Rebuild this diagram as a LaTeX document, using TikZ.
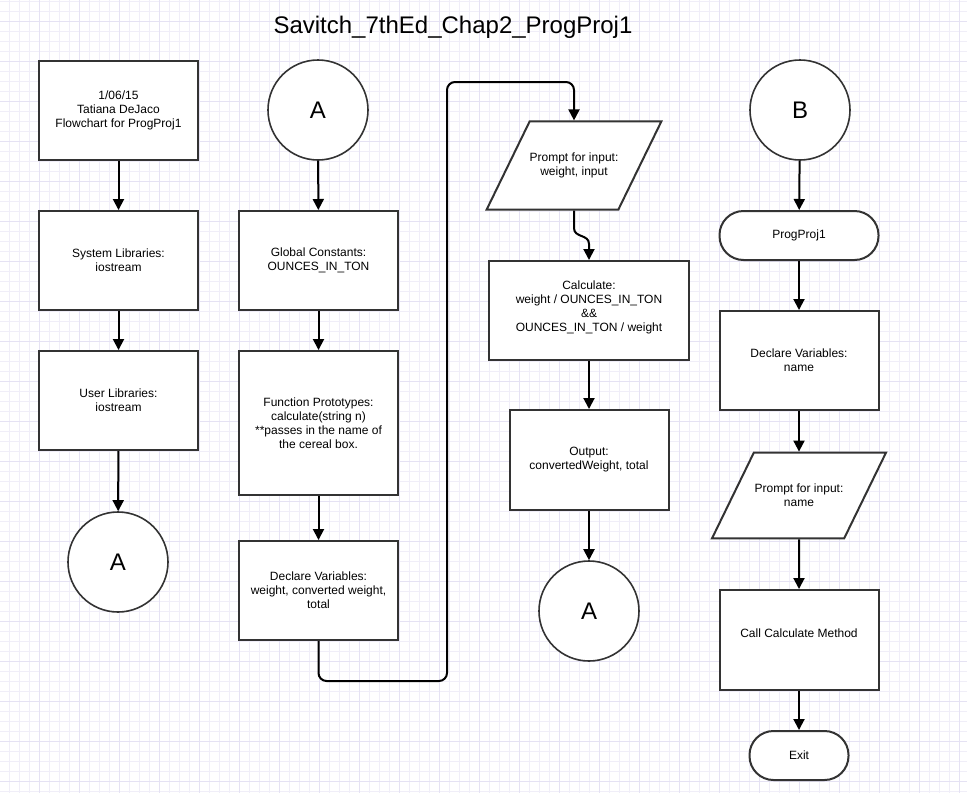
\documentclass[tikz,border=0pt]{standalone}
\usepackage{fontspec}
\setmainfont{Liberation Sans}
\usetikzlibrary{shapes.geometric,arrows.meta,positioning}
\definecolor{gridminor}{HTML}{F0EEF8}
\definecolor{gridmajor}{HTML}{E5E2F3}
\definecolor{boxline}{HTML}{333333}

\begin{document}
\begin{tikzpicture}[
  x=1pt, y=-1pt,
  every node/.style={font=\fontsize{12}{14}\selectfont, align=center},
  box/.style={rectangle, draw=boxline, line width=2pt, fill=white, minimum width=159pt, minimum height=99pt, inner sep=2pt},
  conn/.style={circle, draw=boxline, line width=1.6pt, fill=white, minimum size=100pt, font=\fontsize{24}{28}\selectfont},
  term/.style={rectangle, rounded corners=24pt, draw=boxline, line width=2pt, fill=white, minimum width=159pt, minimum height=49pt},
  io/.style={trapezium, trapezium left angle=64, trapezium right angle=116, trapezium stretches body, draw=boxline, line width=2pt, fill=white, minimum width=174pt, inner xsep=0pt, inner ysep=31.5pt},
  rel/.style={-{Triangle[width=11pt,length=11pt]}, line width=2pt, black},
  link/.style={rel, rounded corners=8pt}
]
\useasboundingbox (0,0) rectangle (967,793);
\fill[white] (0,0) rectangle (967,793);

% Grid
\foreach \x in {9,19,...,959} \draw[gridminor, line width=1pt] (\x,0) -- (\x,793);
\foreach \y in {1,11,...,791} \draw[gridminor, line width=1pt] (0,\y) -- (967,\y);
\foreach \x in {39,79,...,959} \draw[gridmajor, line width=1pt] (\x,0) -- (\x,793);
\foreach \y in {21,61,...,781} \draw[gridmajor, line width=1pt] (0,\y) -- (967,\y);

% Title
\node[font=\fontsize{24}{28}\selectfont] (title) at (453,27) {Savitch\_7thEd\_Chap2\_ProgProj1};

% Column 1
\node[box] (info) at (118.5,110.5) {1/06/15\\Tatiana DeJaco\\Flowchart for ProgProj1};
\node[box] (syslib) at (118.5,260.5) {System Libraries:\\iostream};
\node[box] (userlib) at (118.5,400.5) {User Libraries:\\iostream};
\node[conn] (conA1) at (118,562) {A};

% Column 2
\node[conn] (conA2) at (318,110) {A};
\node[box] (globals) at (318.5,260.5) {Global Constants:\\OUNCES\_IN\_TON};
\node[box, minimum height=144pt] (protos) at (318.5,423) {Function Prototypes:\\calculate(string n)\\**passes in the name of\\the cereal box.};
\node[box] (declare) at (318.5,590.5) {Declare Variables:\\weight, converted weight,\\total};

% Column 3
\node[io] (prompt) at (574,165.5) {Prompt for input:\\weight, input};
\node[box, minimum width=200pt] (calc) at (589,310.5) {Calculate:\\weight / OUNCES\_IN\_TON\\\&\&\\OUNCES\_IN\_TON / weight\\[-6pt]\mbox{}};
\node[box, minimum height=100pt] (output) at (589,460) {Output:\\convertedWeight, total};
\node[conn] (conA3) at (589,611) {A};

% Column 4
\node[conn] (conB) at (800,110) {B};
\node[term] (start) at (799,235.5) {ProgProj1};
\node[box] (declname) at (799,360.5) {Declare Variables:\\name};
\node[io] (promptname) at (799,495.5) {Prompt for input:\\name};
\node[box, minimum height=100pt] (callcalc) at (799,640) {Call Calculate Method\\\mbox{}};
\node[term, minimum width=99pt] (exit) at (799,755.5) {Exit};

% Flow
\draw[rel] (info) -- (syslib);
\draw[rel] (syslib) -- (userlib);
\draw[rel] (userlib) -- (conA1);

\draw[rel] (conA2) -- (globals);
\draw[rel] (globals) -- (protos);
\draw[rel] (protos) -- (declare);

% Wrap round to column 3
\coordinate (wrapL) at (447,681);
\coordinate (wrapR) at (447,82);
\draw[link] (declare.south) |- (wrapL) -- (wrapR) -| (prompt.north);

\coordinate (bendA) at (574,228);
\coordinate (bendB) at (589,244);
\draw[rel] (prompt.south) -- (bendA) .. controls +(0,10) and +(0,-10) .. (bendB) -- (calc.north);
\draw[rel] (calc) -- (output);
\draw[rel] (output) -- (conA3);

\draw[rel] (conB) -- (start);
\draw[rel] (start) -- (declname);
\draw[rel] (declname) -- (promptname);
\draw[rel] (promptname) -- (callcalc);
\draw[rel] (callcalc) -- (exit);

\end{tikzpicture}
\end{document}
